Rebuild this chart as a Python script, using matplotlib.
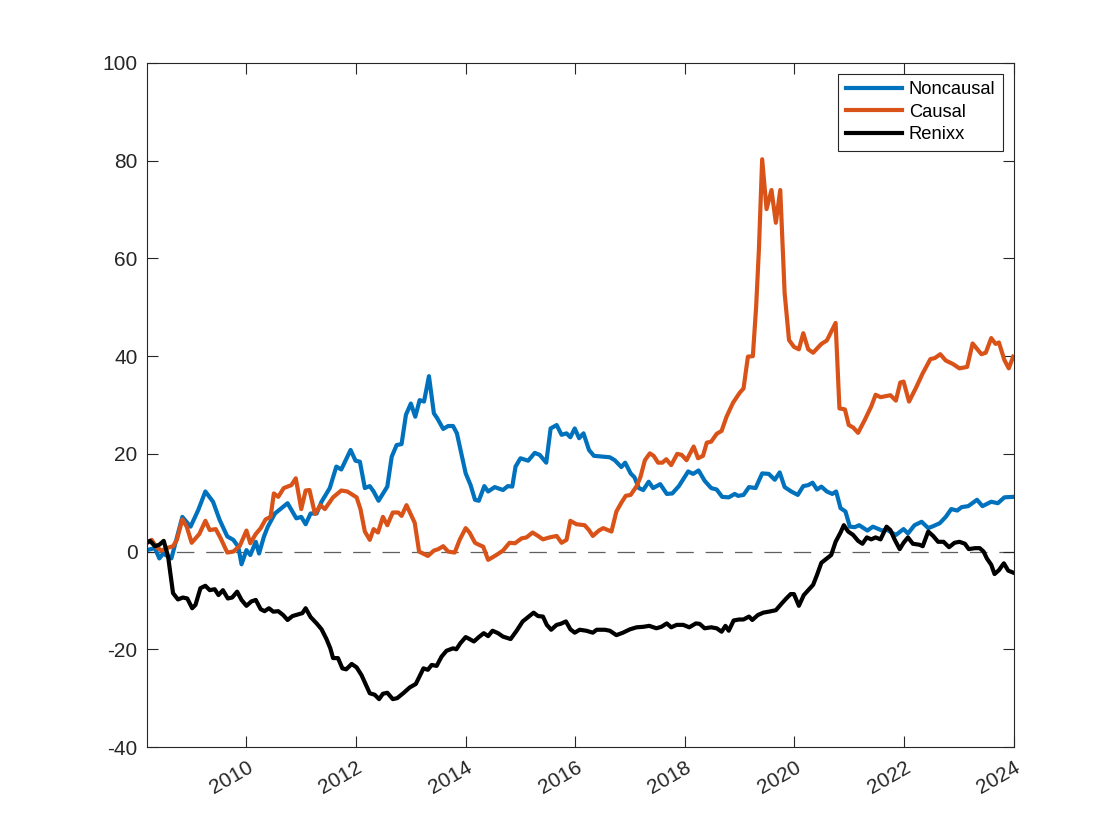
import matplotlib
matplotlib.use('Agg')
import matplotlib.pyplot as plt

# --- data (decimal year, value) ---
noncausal = [
    (2008.18, 0.3), (2008.33, 0.7), (2008.41, -1.4), (2008.48, -0.4), (2008.63, -1.4),
    (2008.83, 7.1), (2008.98, 5.1), (2009.12, 8.5), (2009.25, 12.3), (2009.39, 10.2),
    (2009.51, 6.5), (2009.65, 3.1), (2009.76, 2.4), (2009.85, 1.0), (2009.91, -2.6),
    (2010.00, 0.3), (2010.07, -0.7), (2010.17, 2.0), (2010.23, -0.4), (2010.32, 3.1),
    (2010.39, 5.1), (2010.52, 7.8), (2010.64, 8.9), (2010.75, 9.9), (2010.91, 6.8),
    (2011.00, 7.1), (2011.08, 5.6), (2011.17, 7.8), (2011.28, 7.8), (2011.37, 10.2),
    (2011.52, 13.0), (2011.64, 17.4), (2011.73, 16.8), (2011.90, 20.8), (2011.99, 18.6),
    (2012.07, 18.4), (2012.16, 13.0), (2012.25, 13.4), (2012.32, 12.3), (2012.41, 10.4),
    (2012.57, 13.3), (2012.65, 19.4), (2012.74, 21.8), (2012.83, 22.0), (2012.91, 28.0),
    (2013.00, 30.3), (2013.08, 27.6), (2013.16, 31.0), (2013.24, 30.7), (2013.33, 35.9),
    (2013.42, 28.3), (2013.48, 27.3), (2013.59, 25.1), (2013.68, 25.7), (2013.77, 25.7),
    (2013.84, 24.2), (2013.92, 20.1), (2014.00, 16.0), (2014.09, 13.6), (2014.17, 10.6),
    (2014.24, 10.4), (2014.34, 13.4), (2014.41, 12.3), (2014.53, 13.2), (2014.68, 12.6),
    (2014.77, 13.4), (2014.85, 13.3), (2014.91, 17.4), (2015.00, 19.1), (2015.14, 18.6),
    (2015.26, 20.2), (2015.35, 19.8), (2015.47, 18.2), (2015.55, 25.2), (2015.66, 25.9),
    (2015.75, 23.9), (2015.84, 24.2), (2015.91, 23.4), (2015.99, 25.2), (2016.07, 23.2),
    (2016.15, 24.2), (2016.25, 20.8), (2016.34, 19.6), (2016.63, 19.3), (2016.72, 18.7),
    (2016.84, 17.3), (2016.91, 18.2), (2017.01, 16.0), (2017.08, 15.2), (2017.16, 13.0),
    (2017.24, 12.6), (2017.34, 14.3), (2017.42, 13.0), (2017.55, 13.8), (2017.67, 11.8),
    (2017.77, 11.9), (2017.89, 13.4), (2018.06, 16.4), (2018.15, 15.9), (2018.25, 16.6),
    (2018.36, 14.5), (2018.48, 13.0), (2018.58, 12.7), (2018.68, 11.2), (2018.80, 11.1),
    (2018.91, 11.8), (2018.97, 11.4), (2019.07, 11.6), (2019.17, 13.2), (2019.29, 13.0),
    (2019.41, 16.0), (2019.53, 15.9), (2019.64, 14.7), (2019.73, 16.2), (2019.82, 13.2),
    (2019.94, 12.3), (2020.06, 11.6), (2020.16, 13.4), (2020.25, 13.6), (2020.33, 14.1),
    (2020.41, 12.7), (2020.49, 13.3), (2020.59, 12.3), (2020.69, 11.8), (2020.76, 12.3),
    (2020.84, 8.9), (2020.93, 8.2), (2021.01, 5.1), (2021.10, 5.0), (2021.18, 5.4),
    (2021.33, 4.3), (2021.43, 5.1), (2021.60, 4.3), (2021.68, 4.5), (2021.85, 3.4),
    (2021.99, 4.6), (2022.07, 3.7), (2022.19, 5.4), (2022.32, 6.1), (2022.44, 4.8),
    (2022.53, 5.2), (2022.65, 5.8), (2022.76, 7.1), (2022.86, 8.7), (2022.97, 8.4),
    (2023.05, 9.1), (2023.17, 9.3), (2023.33, 10.6), (2023.43, 9.3), (2023.59, 10.2),
    (2023.71, 9.9), (2023.83, 11.1), (2023.99, 11.2),
]

causal = [
    (2008.18, 1.7), (2008.27, 2.4), (2008.36, 0.9), (2008.45, 0.2), (2008.57, 0.8),
    (2008.66, 1.1), (2008.73, 2.4), (2008.83, 6.6), (2008.91, 5.1), (2009.00, 1.8),
    (2009.14, 3.6), (2009.25, 6.3), (2009.33, 4.4), (2009.44, 4.6), (2009.53, 2.7),
    (2009.65, -0.2), (2009.76, 0.0), (2009.88, 1.2), (2010.00, 4.3), (2010.07, 1.7),
    (2010.17, 3.6), (2010.26, 4.8), (2010.35, 6.6), (2010.44, 7.1), (2010.50, 11.9),
    (2010.58, 11.2), (2010.68, 13.0), (2010.82, 13.6), (2010.90, 15.0), (2011.00, 8.7),
    (2011.08, 12.5), (2011.15, 12.6), (2011.25, 7.7), (2011.35, 9.5), (2011.43, 8.7),
    (2011.58, 11.1), (2011.73, 12.5), (2011.84, 12.3), (2012.01, 11.1), (2012.08, 8.7),
    (2012.16, 4.1), (2012.25, 2.4), (2012.32, 4.6), (2012.40, 3.9), (2012.49, 7.1),
    (2012.57, 5.4), (2012.67, 8.0), (2012.77, 8.0), (2012.83, 7.3), (2012.92, 9.5),
    (2013.07, 5.9), (2013.15, 0.0), (2013.31, -0.9), (2013.42, 0.2), (2013.50, 0.5),
    (2013.59, 1.1), (2013.68, 0.0), (2013.80, -0.2), (2013.89, 2.4), (2014.00, 4.8),
    (2014.07, 3.9), (2014.17, 1.8), (2014.24, 1.4), (2014.32, 1.0), (2014.41, -1.7),
    (2014.56, -0.7), (2014.68, 0.2), (2014.80, 1.8), (2014.90, 1.7), (2015.02, 2.7),
    (2015.11, 2.9), (2015.22, 3.9), (2015.32, 3.2), (2015.41, 2.5), (2015.53, 2.9),
    (2015.66, 3.2), (2015.75, 1.8), (2015.84, 2.4), (2015.91, 6.3), (2016.02, 5.6),
    (2016.17, 5.4), (2016.25, 4.4), (2016.32, 3.2), (2016.43, 4.3), (2016.51, 4.8),
    (2016.66, 4.1), (2016.75, 8.2), (2016.84, 10.0), (2016.92, 11.4), (2017.01, 11.6),
    (2017.12, 13.4), (2017.19, 15.3), (2017.27, 18.7), (2017.36, 20.1), (2017.43, 19.6),
    (2017.51, 18.2), (2017.59, 18.2), (2017.66, 18.9), (2017.75, 17.7), (2017.86, 20.0),
    (2017.94, 19.8), (2018.03, 18.7), (2018.16, 21.5), (2018.24, 19.1), (2018.33, 19.6),
    (2018.40, 22.3), (2018.48, 22.5), (2018.58, 24.1), (2018.67, 24.7), (2018.76, 27.6),
    (2018.88, 30.5), (2019.00, 32.5), (2019.07, 33.4), (2019.15, 39.9), (2019.24, 40.0),
    (2019.30, 50.1), (2019.35, 61.7), (2019.41, 80.3), (2019.49, 70.1), (2019.58, 74.0),
    (2019.66, 67.3), (2019.74, 74.0), (2019.82, 52.9), (2019.90, 43.3), (2019.99, 41.9),
    (2020.08, 41.4), (2020.16, 44.7), (2020.25, 41.4), (2020.34, 40.7), (2020.49, 42.5),
    (2020.59, 43.2), (2020.67, 45.0), (2020.75, 46.8), (2020.82, 29.3), (2020.92, 29.1),
    (2020.99, 25.9), (2021.07, 25.4), (2021.16, 24.3), (2021.28, 26.9), (2021.40, 29.7),
    (2021.48, 32.1), (2021.57, 31.6), (2021.75, 32.0), (2021.85, 30.9), (2021.93, 34.6),
    (2021.99, 34.8), (2022.09, 30.7), (2022.22, 33.6), (2022.34, 36.5), (2022.48, 39.4),
    (2022.56, 39.6), (2022.66, 40.4), (2022.76, 39.1), (2022.89, 38.4), (2023.01, 37.5),
    (2023.15, 37.8), (2023.25, 42.6), (2023.41, 40.4), (2023.49, 40.7), (2023.59, 43.7),
    (2023.67, 42.5), (2023.73, 42.8), (2023.83, 39.2), (2023.91, 37.5), (2023.99, 39.9),
]

renixx = [
    (2008.18, 1.8), (2008.24, 2.2), (2008.33, 1.1), (2008.41, 1.4), (2008.49, 2.2),
    (2008.57, -1.0), (2008.66, -8.5), (2008.75, -9.8), (2008.84, -9.4), (2008.92, -9.6),
    (2009.01, -11.6), (2009.07, -10.9), (2009.16, -7.5), (2009.25, -7.0), (2009.33, -7.9),
    (2009.42, -7.7), (2009.49, -8.9), (2009.57, -7.9), (2009.66, -9.6), (2009.74, -9.4),
    (2009.83, -8.2), (2009.91, -9.9), (2010.00, -11.1), (2010.09, -10.2), (2010.17, -9.9),
    (2010.26, -11.8), (2010.33, -12.2), (2010.41, -11.6), (2010.49, -12.3), (2010.58, -12.2),
    (2010.67, -13.0), (2010.75, -14.0), (2010.84, -13.2), (2010.96, -12.8), (2011.02, -12.6),
    (2011.08, -11.6), (2011.17, -13.4), (2011.28, -14.7), (2011.37, -15.9), (2011.46, -17.9),
    (2011.53, -19.8), (2011.58, -21.8), (2011.67, -21.8), (2011.75, -23.9), (2011.82, -24.1),
    (2011.92, -23.0), (2012.01, -23.7), (2012.10, -25.3), (2012.18, -27.3), (2012.25, -29.0),
    (2012.34, -29.3), (2012.42, -30.2), (2012.49, -29.1), (2012.57, -28.9), (2012.67, -30.2),
    (2012.75, -30.0), (2012.86, -29.0), (2012.98, -27.8), (2013.09, -27.1), (2013.16, -25.5),
    (2013.23, -23.9), (2013.31, -24.2), (2013.38, -23.2), (2013.47, -23.4), (2013.56, -21.5),
    (2013.65, -20.3), (2013.77, -19.8), (2013.83, -20.0), (2013.90, -18.8), (2014.00, -17.5),
    (2014.07, -17.9), (2014.15, -18.4), (2014.24, -17.5), (2014.33, -16.7), (2014.41, -17.3),
    (2014.49, -16.2), (2014.59, -16.7), (2014.68, -17.4), (2014.82, -17.9), (2014.93, -16.2),
    (2015.04, -14.3), (2015.14, -13.4), (2015.24, -12.5), (2015.32, -13.2), (2015.41, -13.3),
    (2015.48, -15.0), (2015.56, -16.0), (2015.66, -15.0), (2015.73, -14.8), (2015.83, -14.3),
    (2015.91, -15.9), (2015.99, -16.6), (2016.08, -16.0), (2016.20, -16.2), (2016.32, -16.6),
    (2016.39, -16.0), (2016.54, -16.0), (2016.63, -16.2), (2016.75, -17.1), (2016.87, -16.6),
    (2017.00, -15.9), (2017.12, -15.5), (2017.24, -15.4), (2017.35, -15.2), (2017.48, -15.7),
    (2017.57, -15.4), (2017.67, -14.7), (2017.75, -15.5), (2017.85, -15.0), (2017.97, -15.0),
    (2018.08, -15.5), (2018.20, -14.7), (2018.27, -14.8), (2018.36, -15.7), (2018.48, -15.5),
    (2018.58, -15.7), (2018.67, -16.4), (2018.74, -15.2), (2018.80, -16.2), (2018.89, -14.1),
    (2018.99, -13.9), (2019.07, -13.9), (2019.17, -13.3), (2019.23, -14.0), (2019.33, -13.0),
    (2019.43, -12.5), (2019.53, -12.3), (2019.66, -12.0), (2019.76, -10.7), (2019.85, -9.6),
    (2019.93, -8.7), (2019.99, -8.7), (2020.08, -11.1), (2020.17, -8.9), (2020.25, -7.9),
    (2020.34, -6.8), (2020.41, -4.8), (2020.49, -2.3), (2020.59, -1.4), (2020.67, -0.7),
    (2020.75, 2.0), (2020.84, 3.9), (2020.90, 5.4), (2020.98, 4.1), (2021.07, 3.4),
    (2021.16, 2.2), (2021.24, 1.6), (2021.32, 2.9), (2021.40, 2.5), (2021.48, 2.9),
    (2021.57, 2.5), (2021.68, 5.1), (2021.75, 4.4), (2021.83, 2.4), (2021.92, 0.5),
    (2021.99, 1.8), (2022.07, 2.9), (2022.16, 1.6), (2022.28, 1.4), (2022.34, 1.1),
    (2022.44, 4.1), (2022.53, 3.2), (2022.62, 2.0), (2022.72, 2.0), (2022.82, 0.9),
    (2022.92, 1.8), (2023.01, 2.0), (2023.11, 1.6), (2023.18, 0.5), (2023.29, 0.7),
    (2023.38, 0.7), (2023.45, 0.0), (2023.51, -1.4), (2023.59, -2.7), (2023.65, -4.6),
    (2023.73, -3.8), (2023.82, -2.4), (2023.90, -3.9), (2023.99, -4.3),
]

series_names = ['Noncausal', 'Causal', 'Renixx']
series_colors = ['#0072BD', '#D95319', '#000000']
year_ticks = [2010, 2012, 2014, 2016, 2018, 2020, 2022, 2024]
value_ticks = [-40, -20, 0, 20, 40, 60, 80, 100]

plt.rcParams['font.family'] = ['Liberation Sans', 'DejaVu Sans']
plt.rcParams['axes.unicode_minus'] = False
axis_color = '#262626'

fig = plt.figure(figsize=(11.2, 8.4), dpi=100)
ax = fig.add_axes([0.131, 0.1107, 0.7741, 0.8143])

for name, color, data in zip(series_names, series_colors, [noncausal, causal, renixx]):
    t, v = zip(*data)
    ax.plot(t, v, color=color, lw=3.0, label=name, solid_joinstyle='round')

# zero reference line
ax.axhline(0, color='#5f5f5f', lw=0.9, dashes=(14, 9.5), zorder=0)

ax.set_xlim(noncausal[0][0], 2024)
ax.set_ylim(-40, 100)
ax.set_xticks(year_ticks)
ax.set_yticks(value_ticks)
ax.set_xticklabels([str(y) for y in year_ticks], rotation=30, ha='right', rotation_mode='anchor')

ax.tick_params(direction='in', length=8, width=0.8, colors=axis_color,
               labelsize=15, top=True, right=True)
ax.tick_params(axis='y', pad=6.5)
ax.tick_params(axis='x', pad=8)
for lbl in ax.get_xticklabels():
    lbl.set_x(lbl.get_position()[0])
for sp in ax.spines.values():
    sp.set_color(axis_color)
    sp.set_linewidth(0.8)

leg = ax.legend(loc='upper right', fontsize=13.2, frameon=True, fancybox=False,
                edgecolor=axis_color, framealpha=1, handlelength=3.1,
                handletextpad=0.35, borderaxespad=0.6, labelspacing=0.3,
                borderpad=0.4)
leg.get_frame().set_linewidth(0.8)

fig.savefig('out.png', dpi=100)
